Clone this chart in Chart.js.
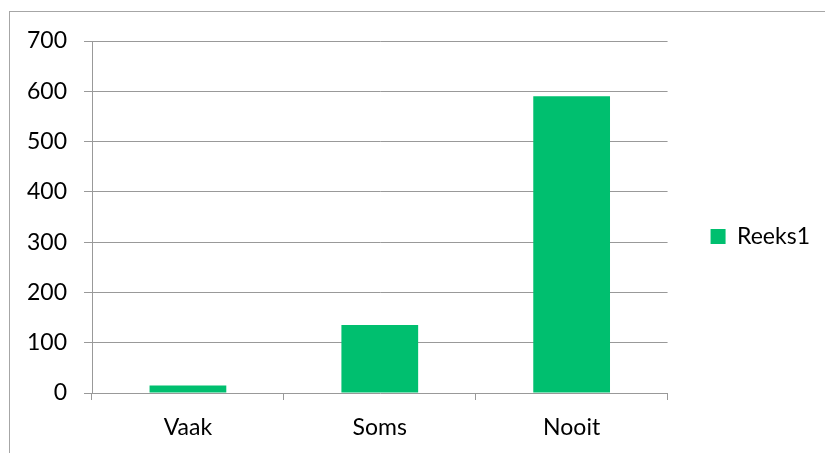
<!DOCTYPE html>
<html>
<head>
<meta charset="utf-8">
<script src="https://cdn.jsdelivr.net/npm/chart.js@4"></script>
<style>
    html, body { margin: 0; padding: 0; background: #fff; }
    #wrap { position: relative; width: 825px; height: 453px; overflow: hidden; }
    #frame { position: absolute; left: 9px; top: 11px; width: 900px; height: 500px; border: 1px solid #a6a6a6; }
    #chart { position: absolute; left: 0; top: 0; }
</style>
</head>
<body>
<div id="wrap">
    <div id="frame"></div>
    <canvas id="chart" width="825" height="453"></canvas>
</div>
<script>
// Chart data
const categories = ['Vaak', 'Soms', 'Nooit'];
const seriesName = 'Reeks1';
const seriesValues = [15, 135, 590];
const yMin = 0;
const yMax = 700;
const yStep = 100;

const barColor = '#00bf6f';
const gridColor = '#999999';
const textColor = '#000000';
const fontFamily = 'Lato, "Open Sans", sans-serif';

document.addEventListener('DOMContentLoaded', function() {
    const chart = new Chart(document.getElementById('chart'), {
        type: 'bar',
        data: {
            labels: categories,
            datasets: [{
                label: seriesName,
                data: seriesValues,
                backgroundColor: barColor,
                borderWidth: 0,
                barPercentage: 0.4,
                categoryPercentage: 1.0
            }]
        },
        options: {
            responsive: false,
            animation: false,
            layout: {
                padding: { left: 10, top: 20, right: 5, bottom: 0 }
            },
            scales: {
                x: {
                    grid: {
                        offset: true,
                        drawOnChartArea: false,
                        drawTicks: true,
                        tickLength: 7,
                        color: gridColor
                    },
                    border: { display: false },
                    ticks: {
                        color: textColor,
                        padding: 14,
                        font: { family: fontFamily, size: 23 }
                    },
                    afterFit: function(scale) {
                        scale.height = 60;
                    }
                },
                y: {
                    min: yMin,
                    max: yMax,
                    grid: {
                        color: gridColor,
                        tickLength: 8
                    },
                    border: { display: true, color: gridColor },
                    ticks: {
                        stepSize: yStep,
                        color: textColor,
                        padding: 17,
                        font: { family: fontFamily, size: 23 }
                    },
                    afterFit: function(scale) {
                        scale.width = 82;
                        scale.paddingTop = 41;
                    }
                }
            },
            plugins: {
                legend: {
                    position: 'right',
                    maxWidth: 158,
                    labels: {
                        boxWidth: 15,
                        boxHeight: 15,
                        padding: 43,
                        color: textColor,
                        font: { family: fontFamily, size: 23 }
                    }
                },
                tooltip: { enabled: false }
            }
        }
    });
});
</script>
</body>
</html>
